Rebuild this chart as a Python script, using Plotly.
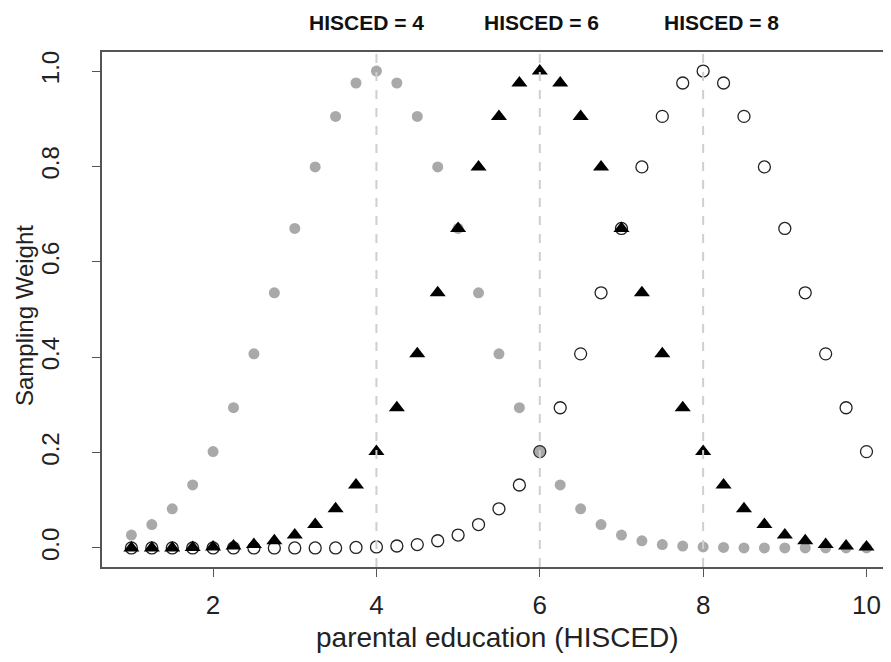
import plotly.graph_objects as go

# x positions (parental education, HISCED)
x_vals = [1.0, 1.25, 1.5, 1.75, 2.0, 2.25, 2.5, 2.75, 3.0, 3.25, 3.5, 3.75,
          4.0, 4.25, 4.5, 4.75, 5.0, 5.25, 5.5, 5.75, 6.0, 6.25, 6.5, 6.75,
          7.0, 7.25, 7.5, 7.75, 8.0, 8.25, 8.5, 8.75, 9.0, 9.25, 9.5, 9.75, 10.0]

# sampling weights centred on HISCED = 4 (grey filled circles)
w_hisced4 = [0.027, 0.049, 0.082, 0.132, 0.202, 0.294, 0.407, 0.535, 0.670, 0.799, 0.905, 0.975,
             1.000, 0.975, 0.905, 0.799, 0.670, 0.535, 0.407, 0.294, 0.202, 0.132, 0.082, 0.049,
             0.027, 0.015, 0.007, 0.004, 0.002, 0.001, 0.000, 0.000, 0.000, 0.000, 0.000, 0.000, 0.000]

# sampling weights centred on HISCED = 6 (black triangles)
w_hisced6 = [0.000, 0.000, 0.000, 0.001, 0.002, 0.004, 0.007, 0.015, 0.027, 0.049, 0.082, 0.132,
             0.202, 0.294, 0.407, 0.535, 0.670, 0.799, 0.905, 0.975, 1.000, 0.975, 0.905, 0.799,
             0.670, 0.535, 0.407, 0.294, 0.202, 0.132, 0.082, 0.049, 0.027, 0.015, 0.007, 0.004, 0.002]

# sampling weights centred on HISCED = 8 (open circles)
w_hisced8 = [0.000, 0.000, 0.000, 0.000, 0.000, 0.000, 0.000, 0.000, 0.000, 0.000, 0.000, 0.001,
             0.002, 0.004, 0.007, 0.015, 0.027, 0.049, 0.082, 0.132, 0.202, 0.294, 0.407, 0.535,
             0.670, 0.799, 0.905, 0.975, 1.000, 0.975, 0.905, 0.799, 0.670, 0.535, 0.407, 0.294, 0.202]

ref_lines = [4, 6, 8]
top_labels = ["HISCED = 4", "HISCED = 6", "HISCED = 8"]

x_ticks = [2, 4, 6, 8, 10]
y_ticks = [0.0, 0.2, 0.4, 0.6, 0.8, 1.0]
y_tick_text = ["0.0", "0.2", "0.4", "0.6", "0.8", "1.0"]

FONT = "Liberation Sans, Arial, Helvetica, sans-serif"
OFF = 8  # default page body margin
W, H = 891 - OFF, 662 - OFF
ML, MR, MT, MB = 102 - OFF, 0, 52 - OFF, 95
PW, PH = W - ML - MR, H - MT - MB


def px_x(p):
    return (p - OFF - ML) / PW


def px_y(p):
    return 1 - (p - OFF - MT) / PH


top_label_px = [366, 541, 721]

fig = go.Figure()
fig.add_trace(go.Scatter(x=x_vals, y=w_hisced4, mode="markers", name="HISCED = 4",
                         marker=dict(symbol="circle", size=11, color="#a9a9a9",
                                     line=dict(width=0))))
fig.add_trace(go.Scatter(x=x_vals, y=w_hisced8, mode="markers", name="HISCED = 8",
                         marker=dict(symbol="circle-open", size=12, color="#222222",
                                     line=dict(width=1.3, color="#222222"))))
fig.add_trace(go.Scatter(x=x_vals, y=w_hisced6, mode="markers", name="HISCED = 6",
                         marker=dict(symbol="triangle-up", size=14, color="#000000",
                                     line=dict(width=0))))

for v in ref_lines:
    fig.add_shape(type="line", xref="x", yref="paper", x0=v, x1=v, y0=0, y1=1,
                  line=dict(color="#cfcfcf", width=2, dash="dash"), layer="above")

for lab, p in zip(top_labels, top_label_px):
    fig.add_annotation(text="<b>" + lab + "</b>", x=px_x(p), xref="paper", y=px_y(22), yref="paper",
                       yanchor="middle", xanchor="center", showarrow=False, borderpad=0,
                       font=dict(family=FONT, size=21, color="#111111"))

fig.add_annotation(text="parental education (HISCED)", x=px_x(497), xref="paper",
                   y=px_y(637), yref="paper", xanchor="center", yanchor="middle",
                   showarrow=False, font=dict(family=FONT, size=28, color="#222222"))
fig.add_annotation(text="Sampling Weight", x=px_x(24), xref="paper",
                   y=px_y(316), yref="paper", xanchor="center", yanchor="middle",
                   textangle=-90, showarrow=False, borderpad=0,
                   font=dict(family=FONT, size=24, color="#222222"))

fig.update_layout(
    width=W, height=H,
    margin=dict(l=ML, r=MR, t=MT, b=MB),
    paper_bgcolor="white", plot_bgcolor="white",
    showlegend=False,
    font=dict(family=FONT, color="#222222"),
)

fig.update_xaxes(range=[0.64, 10.30], tickvals=x_ticks, ticktext=[str(t) for t in x_ticks],
                 automargin=False,
                 showgrid=False, zeroline=False, showline=True, linecolor="#555555",
                 linewidth=1.5, mirror=True, ticks="outside", ticklen=8, tickcolor="#555555",
                 ticklabelstandoff=6,
                 tickfont=dict(size=26, family=FONT, color="#222222"))
fig.update_yaxes(range=[-0.04, 1.04], tickvals=y_ticks, ticktext=y_tick_text,
                 automargin=False,
                 showgrid=False, zeroline=False, showline=True, linecolor="#555555",
                 linewidth=1.5, mirror=True, ticks="outside", ticklen=8, tickcolor="#555555",
                 tickangle=-90, ticklabelstandoff=24,
                 tickfont=dict(size=24, family=FONT, color="#222222"))

fig.write_html("out.html")
